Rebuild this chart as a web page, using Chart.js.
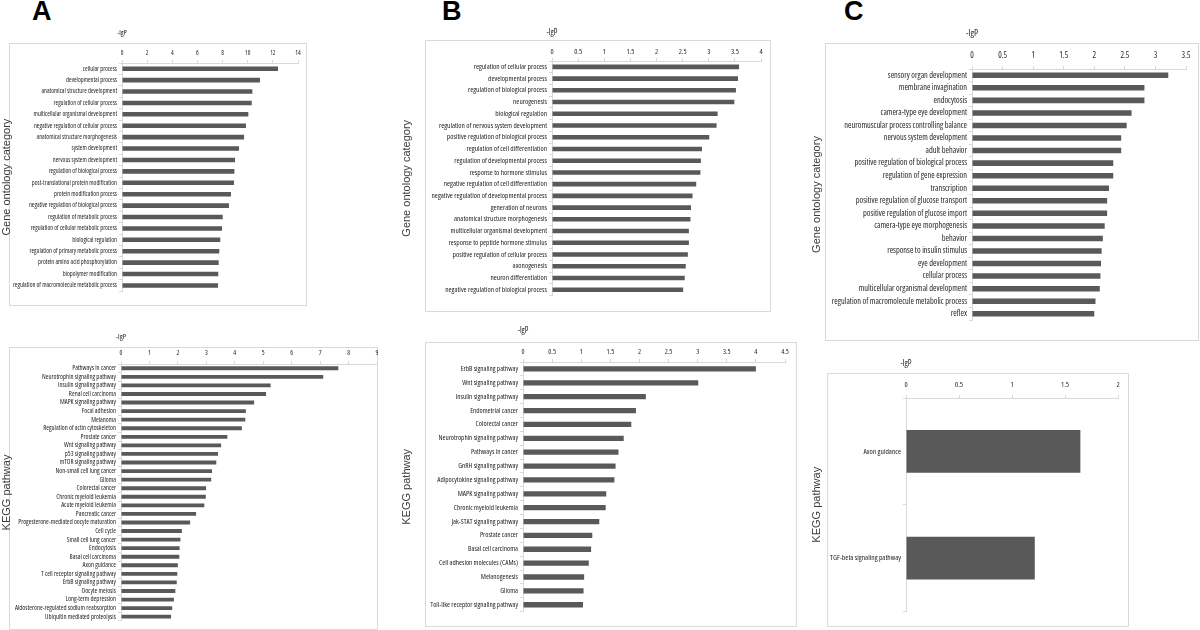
<!DOCTYPE html>
<html><head><meta charset="utf-8">
<script src="https://cdn.jsdelivr.net/npm/chart.js@4.4.1/dist/chart.umd.min.js"></script>
<style>
html,body{margin:0;padding:0;background:#fff;width:1200px;height:630px;overflow:hidden;position:relative;font-family:'Liberation Sans',Arial,sans-serif}
.box{position:absolute;border:1px solid #d9d9d9;box-sizing:border-box}
.cv{position:absolute}
.letter{position:absolute;font:bold 27px 'Liberation Sans',Arial,sans-serif;color:#000;line-height:1}
</style></head><body>
<div class="letter" style="left:32px;top:-2px">A</div>
<div class="letter" style="left:442px;top:-2px">B</div>
<div class="letter" style="left:844px;top:-2px">C</div>
<script>
// ---- Panel A: Gene ontology ----
const aGoLabels = ["cellular process","developmental process","anatomical structure development","regulation of cellular process","multicellular organismal development","negative regulation of cellular process","anatomical structure morphogenesis","system development","nervous system development","regulation of biological process","post-translational protein modification","protein modification process","negative regulation of biological process","regulation of metabolic process","regulation of cellular metabolic process","biological regulation","regulation of primary metabolic process","protein amino acid phosphorylation","biopolymer modification","regulation of macromolecule metabolic process"];
const aGoValues = [12.41,10.98,10.37,10.32,10.05,9.86,9.71,9.31,8.99,8.94,8.91,8.67,8.51,8.01,7.96,7.82,7.74,7.69,7.66,7.64];
const aGoTicks = [0,2,4,6,8,10,12,14];

// ---- Panel A: KEGG ----
const aKeggLabels = ["Pathways in cancer","Neurotrophin signaling pathway","Insulin signaling pathway","Renal cell carcinoma","MAPK signaling pathway","Focal adhesion","Melanoma","Regulation of actin cytoskeleton","Prostate cancer","Wnt signaling pathway","p53 signaling pathway","mTOR signaling pathway","Non-small cell lung cancer","Glioma","Colorectal cancer","Chronic myeloid leukemia","Acute myeloid leukemia","Pancreatic cancer","Progesterone-mediated oocyte maturation","Cell cycle","Small cell lung cancer","Endocytosis","Basal cell carcinoma","Axon guidance","T cell receptor signaling pathway","ErbB signaling pathway","Oocyte meiosis","Long-term depression","Aldosterone-regulated sodium reabsorption","Ubiquitin mediated proteolysis"];
const aKeggValues = [7.64,7.11,5.26,5.10,4.68,4.39,4.37,4.25,3.74,3.52,3.41,3.35,3.20,3.17,2.99,2.98,2.93,2.64,2.43,2.14,2.09,2.06,2.05,2.00,1.98,1.96,1.91,1.86,1.80,1.76];
const aKeggTicks = [0,1,2,3,4,5,6,7,8,9];

// ---- Panel B: Gene ontology ----
const bGoLabels = ["regulation of cellular process","developmental process","regulation of biological process","neurogenesis","biological regulation","regulation of nervous system development","positive regulation of biological process","regulation of cell differentiation","regulation of developmental process","response to hormone stimulus","negative regulation of cell differentiation","negative regulation of developmental process","generation of neurons","anatomical structure morphogenesis","multicellular organismal development","response to peptide hormone stimulus","positive regulation of cellular process","axonogenesis","neuron differentiation","negative regulation of biological process"];
const bGoValues = [3.58,3.56,3.52,3.49,3.17,3.15,3.01,2.87,2.85,2.84,2.76,2.69,2.66,2.65,2.62,2.62,2.60,2.56,2.54,2.51];
const bGoTicks = [0,0.5,1,1.5,2,2.5,3,3.5,4];

// ---- Panel B: KEGG ----
const bKeggLabels = ["ErbB signaling pathway","Wnt signaling pathway","Insulin signaling pathway","Endometrial cancer","Colorectal cancer","Neurotrophin signaling pathway","Pathways in cancer","GnRH signaling pathway","Adipocytokine signaling pathway","MAPK signaling pathway","Chronic myeloid leukemia","Jak-STAT signaling pathway","Prostate cancer","Basal cell carcinoma","Cell adhesion molecules (CAMs)","Melanogenesis","Glioma","Toll-like receptor signaling pathway"];
const bKeggValues = [4.00,3.01,2.11,1.94,1.86,1.73,1.64,1.59,1.57,1.43,1.42,1.31,1.19,1.17,1.13,1.05,1.04,1.03];
const bKeggTicks = [0,0.5,1,1.5,2,2.5,3,3.5,4,4.5];

// ---- Panel C: Gene ontology ----
const cGoLabels = ["sensory organ development","membrane invagination","endocytosis","camera-type eye development","neuromuscular process controlling balance","nervous system development","adult behavior","positive regulation of biological process","regulation of gene expression","transcription","positive regulation of glucose transport","positive regulation of glucose import","camera-type eye morphogenesis","behavior","response to insulin stimulus","eye development","cellular process","multicellular organismal development","regulation of macromolecule metabolic process","reflex"];
const cGoValues = [3.21,2.82,2.82,2.61,2.53,2.44,2.44,2.31,2.31,2.24,2.21,2.21,2.17,2.14,2.12,2.11,2.10,2.09,2.02,2.00];
const cGoTicks = [0,0.5,1,1.5,2,2.5,3,3.5];

// ---- Panel C: KEGG ----
const cKeggLabels = ["Axon guidance","TGF-beta signaling pathway"];
const cKeggValues = [1.645,1.215];
const cKeggTicks = [0,0.5,1,1.5,2];

const axisTitle = "-lgP";
const goTitle = "Gene ontology category";
const keggTitle = "KEGG pathway";

// ---- layout (positions/styles only) ----
const NARROW = "'Open Sans','Liberation Sans',sans-serif";
const STRETCH = "normal condensed";
const TXT = '#1e1e1e';
const panels = [
  {labels:aGoLabels, values:aGoValues, ticks:aGoTicks, yTitle:goTitle,
   left:0, top:20, zeroX:122, maxX:298, axisY:63, bottomY:297, box:[9,43,307,306], size:6.4, lblOff:10, lgpOff:30, bar:0.40},
  {labels:aKeggLabels, values:aKeggValues, ticks:aKeggTicks, yTitle:keggTitle,
   left:0, top:320, zeroX:121, maxX:377, axisY:364, bottomY:627, box:[9,347,378,630], size:6.7, lblOff:10.5, lgpOff:27, bar:0.45},
  {labels:bGoLabels, values:bGoValues, ticks:bGoTicks, yTitle:goTitle,
   left:400, top:20, zeroX:552, maxX:761, axisY:61, bottomY:302, box:[425,40,771,312], size:7.4, lblOff:9, lgpOff:28, bar:0.39},
  {labels:bKeggLabels, values:bKeggValues, ticks:bKeggTicks, yTitle:keggTitle,
   left:400, top:320, zeroX:523, maxX:785, axisY:362, bottomY:618, box:[425,342,797,627], size:7.2, lblOff:10, lgpOff:31, bar:0.38},
  {labels:cGoLabels, values:cGoValues, ticks:cGoTicks, yTitle:goTitle,
   left:810, top:20, zeroX:972, maxX:1186, axisY:69, bottomY:327, box:[825,43,1199,341], size:8.3, lblOff:13.7, lgpOff:36, bar:0.44},
  {labels:cKeggLabels, values:cKeggValues, ticks:cKeggTicks, yTitle:keggTitle,
   left:810, top:350, zeroX:906, maxX:1118, axisY:398, bottomY:618, box:[827,373,1129,627], size:7.5, lblOff:12.7, lgpOff:34, bar:0.40}
];

function makePanel(p){
  const box=document.createElement('div'); box.className='box';
  Object.assign(box.style,{left:p.box[0]+'px',top:p.box[1]+'px',width:(p.box[2]-p.box[0])+'px',height:(p.box[3]-p.box[1])+'px'});
  document.body.appendChild(box);
  const padR=12;
  const W=Math.round(p.maxX+padR-p.left), H=Math.round(p.bottomY-p.top);
  const wrap=document.createElement('div'); wrap.className='cv';
  Object.assign(wrap.style,{left:p.left+'px',top:p.top+'px',width:W+'px',height:H+'px'});
  const cv=document.createElement('canvas'); cv.width=W; cv.height=H;
  cv.style.width=W+'px'; cv.style.height=H+'px';
  wrap.appendChild(cv); document.body.appendChild(wrap);
  const tMin=p.ticks[0], tMax=p.ticks[p.ticks.length-1], step=p.ticks[1]-p.ticks[0];
  const tickPad = Math.max(0, p.lblOff - 3 - 0.6*p.size);
  const tfont = {family:NARROW,size:p.size,weight:STRETCH};
  new Chart(cv,{
    type:'bar',
    data:{labels:p.labels,datasets:[{data:p.values,backgroundColor:'#595959',borderWidth:0,barPercentage:p.bar,categoryPercentage:1}]},
    options:{
      indexAxis:'y', responsive:false, animation:false, devicePixelRatio:1,
      layout:{padding:{left:0,right:padR,top:0,bottom:0}},
      plugins:{legend:{display:false},tooltip:{enabled:false}},
      scales:{
        x:{type:'linear',position:'top',min:tMin,max:tMax,
           ticks:{stepSize:step,autoSkip:false,maxRotation:0,padding:tickPad,color:TXT,font:tfont,
                  callback:(v)=>String(Math.round(v*100)/100)},
           grid:{drawOnChartArea:false,drawTicks:true,tickLength:3,color:'#d9d9d9'},
           border:{display:true,color:'#d9d9d9'},
           afterFit(s){ s.height = p.axisY - p.top; }},
        y:{position:'left',
           ticks:{autoSkip:false,padding:2,color:TXT,font:tfont},
           grid:{drawOnChartArea:false,drawTicks:true,tickLength:3,color:'#d9d9d9',offset:true},
           border:{display:true,color:'#d9d9d9'},
           title:{display:true,text:p.yTitle,color:'#3a3a3a',padding:0,font:{family:"'Liberation Sans',Arial,sans-serif",size:11}},
           afterFit(s){ s.width = p.zeroX - p.left; }}
      }
    },
    plugins:[{id:'lgp',afterDraw(chart){
      const xs=chart.scales.x, ctx=chart.ctx;
      ctx.save(); ctx.fillStyle=TXT; ctx.textAlign='center'; ctx.textBaseline='middle';
      ctx.font=STRETCH+' '+(p.size+1)+'px '+NARROW;
      ctx.fillText(axisTitle, xs.getPixelForValue(0), xs.bottom - p.lgpOff);
      ctx.restore();
    }}]
  });
}
panels.forEach(makePanel);
</script>
</body></html>
